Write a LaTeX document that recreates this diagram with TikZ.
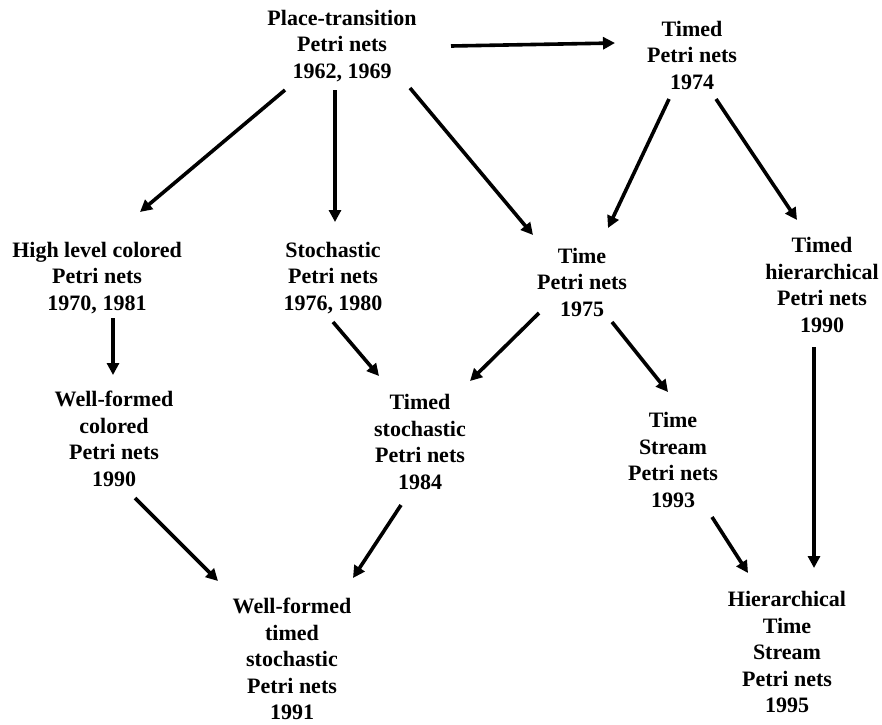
\documentclass[tikz,border=0pt]{standalone}
\usepackage{fontspec}
\setmainfont{Liberation Serif}
\usetikzlibrary{arrows.meta}
\begin{document}
\begin{tikzpicture}[x=1pt,y=-1pt]
                \useasboundingbox (0,0) rectangle (882,724);
                \begin{scope}[every node/.style={align=center,inner sep=0pt,
                            font=\bfseries\fontsize{22}{26.5}\selectfont}]
                    \node (PT) at (342,46) {Place-transition\\Petri nets\\1962, 1969};
                    \node (T74) at (692,55) {Timed\\Petri nets\\1974};
                    \node (HL) at (97,278) {High level colored\\Petri nets\\1970, 1981};
                    \node (SPN) at (333,278) {Stochastic\\Petri nets\\1976, 1980};
                    \node (TPN) at (582,282) {Time\\Petri nets\\1975};
                    \node (THPN) at (822,285) {Timed\\hierarchical\\Petri nets\\1990};
                    \node (WFC) at (114,439) {Well-formed\\colored\\Petri nets\\1990};
                    \node (TSPN) at (420,442) {Timed\\stochastic\\Petri nets\\1984};
                    \node (TSTR) at (673,460) {Time\\Stream\\Petri nets\\1993};
                    \node (WFTS) at (292,659) {Well-formed\\timed\\stochastic\\Petri nets\\1991};
                    \node (HTS) at (787,652) {Hierarchical\\Time\\Stream\\Petri nets\\1995};
                \end{scope}

                \begin{scope}[every edge/.style={draw=black,line width=3.6pt,
                            -{Triangle[length=12pt,width=12pt]}}]
                    \path ([shift={(-57,44)}]PT.center) edge ([shift={(43,-66)}]HL.center);
                    \path ([shift={(-7,44)}]PT.center) edge ([shift={(2,-56)}]SPN.center);
                    \path ([shift={(68,42)}]PT.center) edge ([shift={(-49,-47)}]TPN.center);
                    \path ([shift={(109,0)}]PT.center) edge ([shift={(-77,-12)}]T74.center);
                    \path ([shift={(-23,44)}]T74.center) edge ([shift={(26,-54)}]TPN.center);
                    \path ([shift={(24,44)}]T74.center) edge ([shift={(-25,-65)}]THPN.center);
                    \path ([shift={(16,40)}]HL.center) edge ([shift={(-1,-64)}]WFC.center);
                    \path ([shift={(0,44)}]SPN.center) edge ([shift={(-41,-66)}]TSPN.center);
                    \path ([shift={(-43,31)}]TPN.center) edge ([shift={(50,-61)}]TSPN.center);
                    \path ([shift={(30,40)}]TPN.center) edge ([shift={(-5,-68)}]TSTR.center);
                    \path ([shift={(-8,62)}]THPN.center) edge ([shift={(27,-84)}]HTS.center);
                    \path ([shift={(21,59)}]WFC.center) edge ([shift={(-74,-78)}]WFTS.center);
                    \path ([shift={(-19,63)}]TSPN.center) edge ([shift={(61,-81)}]WFTS.center);
                    \path ([shift={(39,57)}]TSTR.center) edge ([shift={(-39,-79)}]HTS.center);
                \end{scope}
            \end{tikzpicture}
\end{document}
